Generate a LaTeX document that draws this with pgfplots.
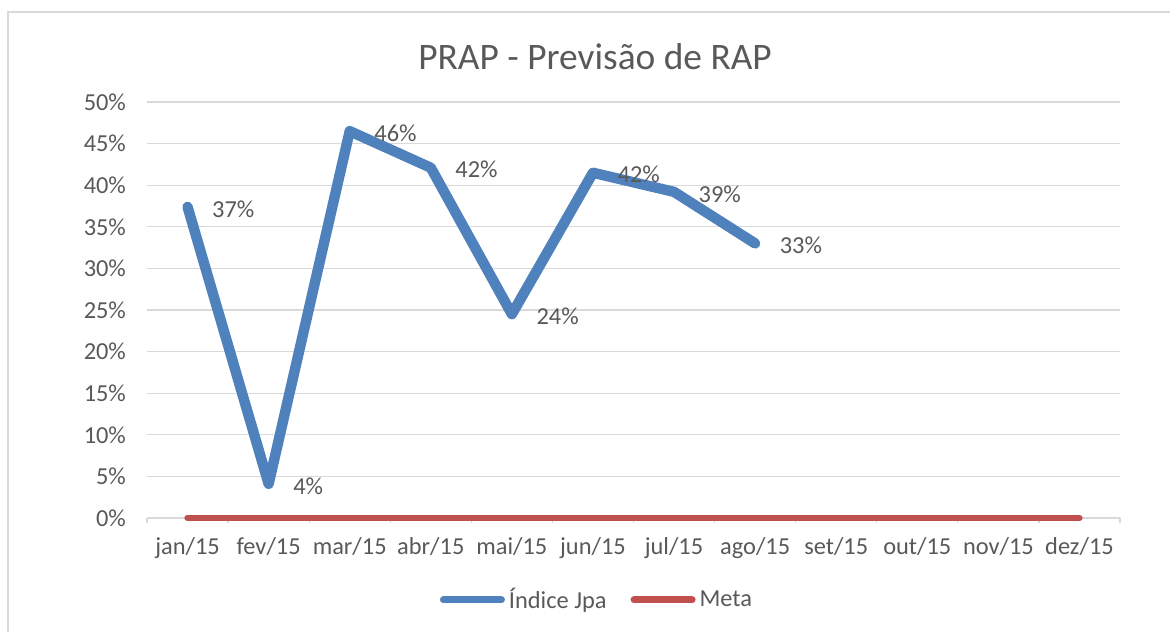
\documentclass[border=0pt]{standalone}
\usepackage{pgfplots}
\pgfplotsset{compat=1.18}
\usepackage{fontspec}
\setmainfont{Carlito}
\definecolor{txt}{HTML}{595959}
\definecolor{gridc}{HTML}{D9D9D9}
\definecolor{blueS}{HTML}{4F81BD}
\definecolor{redS}{HTML}{C0504D}
\begin{document}
\begin{tikzpicture}
\useasboundingbox (-73.5pt,-57pt) rectangle (511.5pt,259pt);
\draw[gridc, line width=0.6pt] (-69.5pt,-57pt) -- (-69.5pt,253pt) -- (511.5pt,253pt);
\begin{axis}[
  at={(0,0)}, anchor=south west,
  scale only axis, width=486.5pt, height=208pt,
  xmin=-0.5, xmax=11.5, ymin=0, ymax=50,
  clip=false,
  axis x line*=bottom, axis y line*=left,
  x axis line style={gridc, line width=0.6pt, -},
  y axis line style={draw=none},
  xtick={0,...,11},
  xticklabels={jan/15,fev/15,mar/15,abr/15,mai/15,jun/15,jul/15,ago/15,set/15,out/15,nov/15,dez/15},
  minor xtick={-0.5,0.5,...,11.5},
  major tick length=0pt, minor tick length=2.5pt,
  tick align=outside,
  minor tick style={gridc, line width=0.6pt},
  ytick={0,5,...,50},
  yticklabel={\pgfmathprintnumber{\tick}\%},
  /pgf/number format/assume math mode=true,
  ymajorgrids=true,
  grid style={gridc, line width=0.6pt},
  tick label style={font=\fontsize{12.2}{14}\selectfont, text=txt},
  yticklabel style={xshift=-7pt},
  xticklabel style={yshift=-6pt},
  legend style={at={(0.4635,-0.197)}, anchor=center, draw=none, fill=none,
    font=\fontsize{12.2}{14}\selectfont, text=txt, legend columns=2,
    /tikz/every even column/.append style={column sep=10pt}},
  legend cell align=left,
]
\addplot[blueS, line width=5.2pt, line cap=round, line join=round,
  point meta=explicit symbolic,
  nodes near coords,
  every node near coord/.append style={anchor=west, xshift=9pt, yshift=-1pt, text=txt, font=\fontsize{12.2}{14}\selectfont, line width=0pt},
  legend image code/.code={\draw[blueS, line cap=round, line width=3.5pt] (0pt,0pt) -- (29pt,0pt);}]
coordinates {
 (0,37.4) [37\%]
 (1,4.1) [4\%]
 (2,46.5) [46\%]
 (3,42.1) [42\%]
 (4,24.5) [24\%]
 (5,41.5) [42\%]
 (6,39.2) [39\%]
 (7,33.0) [33\%]
};
\addlegendentry{Índice Jpa}
\addplot[redS, line width=3.2pt, line cap=round,
  legend image code/.code={\draw[redS, line cap=round, line width=3.5pt] (0pt,0pt) -- (29pt,0pt);}]
coordinates {
 (0,0) (1,0) (2,0) (3,0) (4,0) (5,0) (6,0) (7,0) (8,0) (9,0) (10,0) (11,0)
};
\addlegendentry{Meta}
\end{axis}
\node[text=txt, font=\fontsize{18.7}{22}\selectfont] at (224pt,230.5pt) {PRAP - Previsão de RAP};
\end{tikzpicture}
\end{document}
